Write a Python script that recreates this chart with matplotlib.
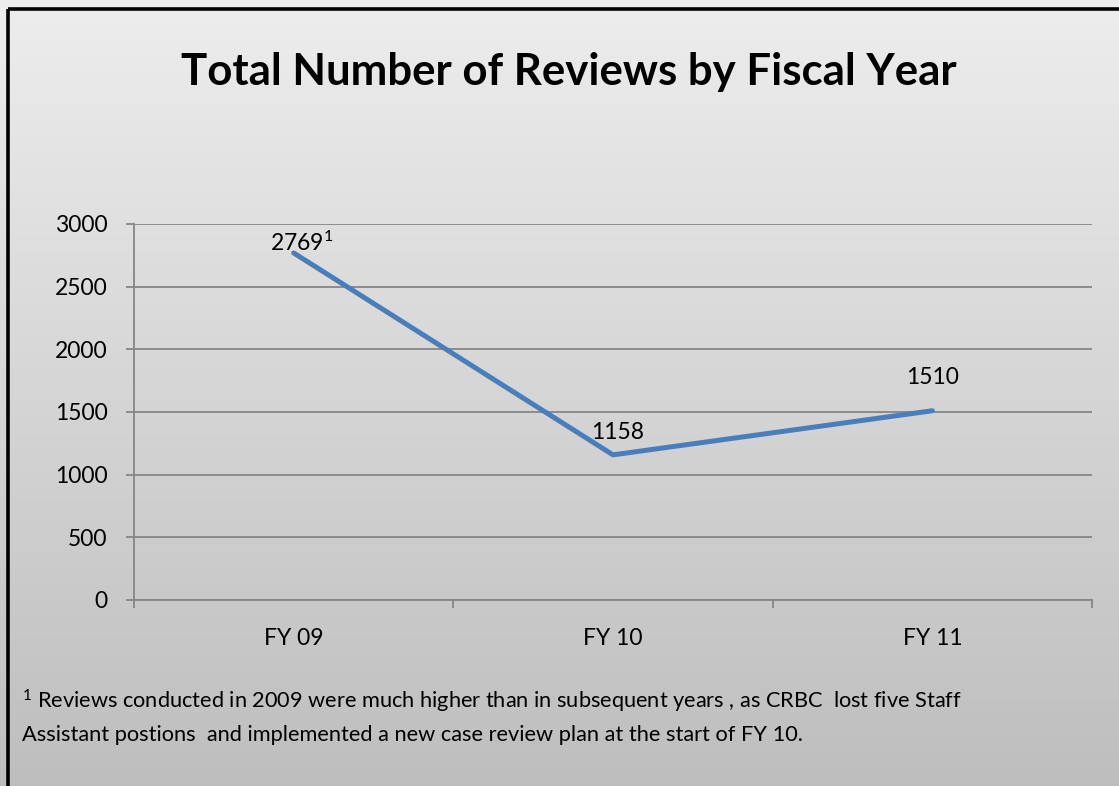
import numpy as np
import matplotlib.pyplot as plt

years = ['FY 09', 'FY 10', 'FY 11']
reviews = [2769, 1158, 1510]
value_labels = ['2769$^1$', '1158', '1510']
yticks = [0, 500, 1000, 1500, 2000, 2500, 3000]

plt.rcParams['font.family'] = ['Lato', 'DejaVu Sans']
plt.rcParams['mathtext.fontset'] = 'custom'
plt.rcParams['mathtext.rm'] = 'Lato'
plt.rcParams['mathtext.it'] = 'Lato'
plt.rcParams['mathtext.default'] = 'regular'

fig = plt.figure(figsize=(11.19, 7.86), dpi=100)

# grey vertical gradient behind everything
bg = fig.add_axes([0, 0, 1, 1], zorder=-10)
grad = np.linspace(0, 1, 256).reshape(-1, 1)
top = np.array([0.93, 0.93, 0.93])
bottom = np.array([0.745, 0.745, 0.745])
img = top + (bottom - top) * grad[..., None]
bg.imshow(img, aspect='auto', extent=[0, 1, 0, 1], origin='upper')
bg.set_xlim(0, 1)
bg.set_ylim(0, 1)
bg.axis('off')

# black frame on top and left only
bg.plot([7.5 / 1119, 1], [1 - 8.5 / 786, 1 - 8.5 / 786], color='black', lw=2.6, solid_capstyle='butt')
bg.plot([7.5 / 1119, 7.5 / 1119], [0, 1 - 8.5 / 786], color='black', lw=2.6, solid_capstyle='butt')

ax = fig.add_axes([134 / 1119, 186 / 786, 958 / 1119, 376 / 786])
ax.patch.set_alpha(0)
x = np.arange(len(years))
ax.plot(x, reviews, color='#4A7EBB', lw=3.6, solid_capstyle='round', zorder=3)

ax.set_xlim(-0.5, len(years) - 0.5)
ax.set_ylim(0, 3000)
ax.set_yticks(yticks)
ax.set_yticklabels([str(v) for v in yticks], fontsize=16.5)
ax.yaxis.grid(True, color='#868686', lw=1.3)
ax.set_axisbelow(True)

# category boundaries get the ticks, names sit in between
ax.set_xticks(np.arange(-0.5, len(years)))
ax.set_xticklabels([])
ax.set_xticks(x, minor=True)
ax.set_xticklabels(years, minor=True, fontsize=16.5)
ax.tick_params(axis='x', which='minor', length=0, pad=20)
ax.tick_params(axis='both', which='major', length=6, width=1.3, color='#868686')
ax.tick_params(axis='y', which='major', pad=13)

for s in ['top', 'right']:
    ax.spines[s].set_visible(False)
for s in ['left', 'bottom']:
    ax.spines[s].set_color('#868686')
    ax.spines[s].set_linewidth(1.3)

offsets = [(6, 7), (3, 16), (0, 24)]
for xi, yi, lab, off in zip(x, reviews, value_labels, offsets):
    ax.annotate(lab, (xi, yi), xytext=off, textcoords='offset points',
                ha='center', va='center', fontsize=16.5)

fig.text(0.508, 1 - 72 / 786, 'Total Number of Reviews by Fiscal Year',
         ha='center', va='center', fontsize=31.5, fontweight='bold')

fig.text(22 / 1119, 1 - 701 / 786,
         '$^1$ Reviews conducted in 2009 were much higher than in subsequent years , as CRBC  lost five Staff',
         ha='left', va='center', fontsize=15.7)
fig.text(22 / 1119, 1 - 735 / 786,
         'Assistant postions  and implemented a new case review plan at the start of FY 10.',
         ha='left', va='center', fontsize=15.7)

fig.savefig('out.png', dpi=100)
